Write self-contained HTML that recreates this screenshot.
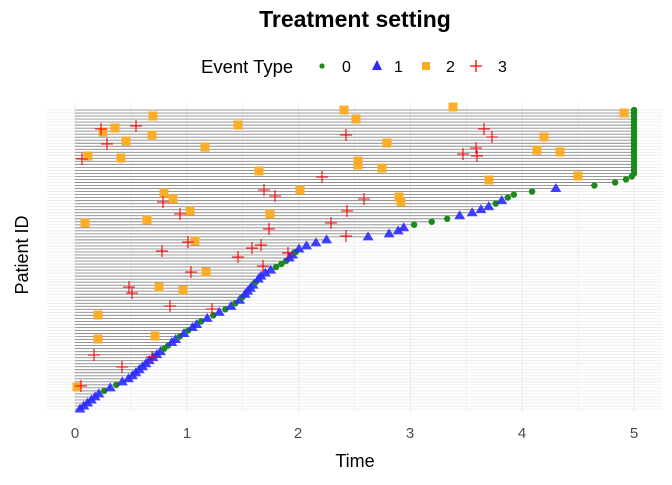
<!DOCTYPE html>
<html><head><meta charset="utf-8"><style>
body{margin:0;background:#fff;width:672px;height:480px;overflow:hidden}
svg text{font-family:"Liberation Sans",sans-serif}
</style></head><body>
<svg id="s" width="672" height="480" xmlns="http://www.w3.org/2000/svg">
<text x="355" y="27" font-size="23" font-weight="bold" text-anchor="middle">Treatment setting</text>
<text x="201" y="73" font-size="18.5">Event Type</text>
<circle cx="322" cy="66" r="2.6" fill="#1a8a1a"/><text x="342" y="72" font-size="16">0</text>
<polygon points="377,60 382,70 372,70" fill="#2a2aff"/><text x="394" y="72" font-size="16">1</text>
<rect x="422" y="62" width="8" height="8" fill="#fbab20"/><text x="446" y="72" font-size="16">2</text>
<path d="M470 66h12M476 60v12" stroke="#f00" stroke-width="1.3"/><text x="498" y="72" font-size="16">3</text>
<g id="g"></g>
<g font-size="15" fill="#4d4d4d" text-anchor="middle">
<text x="75" y="438">0</text><text x="187" y="438">1</text><text x="298" y="438">2</text><text x="410" y="438">3</text><text x="522" y="438">4</text><text x="634" y="438">5</text></g>
<text x="355" y="467" font-size="18" text-anchor="middle">Time</text>
<text transform="translate(28,255) rotate(-90)" font-size="18" text-anchor="middle">Patient ID</text>
</svg>
<script>
var g=document.getElementById('g'),h='';
var N=100,y0=409,dy=3.02;
for(var t=0;t<=10;t++){var x=75+t*55.9;h+='<line x1="'+x+'" y1="103" x2="'+x+'" y2="412" stroke="#ebebeb" stroke-width="'+(t%2?0.6:1.1)+'"/>';}
var cur=[[409,80],[393,100],[378,130],[360,150],[340,175],[322,200],[307,230],[300,240],[275,262],[262,285],[248,300],[240,325],[238,351],[236,381],[232,396],[226,407],[220,442],[212,475],[205,493],[199,505],[194,515],[189,550],[185,601],[182,618],[180,625],[177,631],[175,634],[100,634]];
function ex(y){for(var k=0;k<cur.length-1;k++){var a=cur[k],b=cur[k+1];if(y<=a[0]&&y>=b[0]){return a[1]+(b[1]-a[1])*(a[0]-y)/(a[0]-b[0]);}}return 634;}
var gy=[223,220,218,205,199,193,180,177,309,304,296,283,268,262,252,198,186,182,349,346,337,330,320,315,391,386,263,225,224];
for(var i=0;i<N;i++){var y=y0-i*dy;var x=ex(y);
h+='<line x1="47" y1="'+y+'" x2="662" y2="'+y+'" stroke="#ebebeb" stroke-width="0.8"/>';
h+='<line x1="75" y1="'+y+'" x2="'+x+'" y2="'+y+'" stroke="#8c8c8c" stroke-width="0.9"/>';}
for(var i=0;i<N;i++){var y=y0-i*dy;var x=ex(y);
var gr=x>=633;for(var k=0;k<gy.length;k++)if(Math.abs(gy[k]-y)<1.6)gr=true;
if(gr)h+='<circle cx="'+x+'" cy="'+y+'" r="3.2" fill="#1a8a1a"/>';
else h+='<polygon points="'+x+','+(y-5.5)+' '+(x+5.5)+','+(y+3.5)+' '+(x-5.5)+','+(y+3.5)+'" fill="#2a2aff" opacity="0.9"/>';}
var sq=[[153,116],[115,128],[103,132],[126,141],[152,135],[238,125],[205,147],[88,156],[121,158],[259,171],[300,190],[164,193],[173,199],[190,211],[270,214],[85,223],[147,220],[195,241],[206,272],[159,287],[183,290],[98,315],[98,339],[155,336],[77,387],[344,110],[356,119],[453,107],[387,143],[358,161],[358,165],[382,168],[399,197],[401,202],[489,180],[544,137],[537,150],[560,152],[578,176],[624,113]];
sq.forEach(function(p){h+='<rect x="'+(p[0]-4.5)+'" y="'+(p[1]-4.5)+'" width="9" height="9" fill="#fbab20" opacity="0.95"/>';});
var cr=[[101,129],[136,126],[107,144],[82,159],[322,177],[264,190],[275,196],[163,202],[180,214],[331,223],[269,229],[188,242],[162,251],[252,248],[261,245],[288,253],[191,272],[129,287],[132,293],[170,306],[212,309],[94,355],[122,367],[81,386],[238,257],[263,266],[152,357],[346,135],[484,129],[492,137],[463,154],[476,148],[477,156],[364,199],[347,211],[346,236]];
cr.forEach(function(p){h+='<path d="M'+(p[0]-6)+' '+p[1]+'h12M'+p[0]+' '+(p[1]-6)+'v12" stroke="#f00" stroke-width="1.1"/>';});
g.innerHTML=h;
</script>
</body></html>
